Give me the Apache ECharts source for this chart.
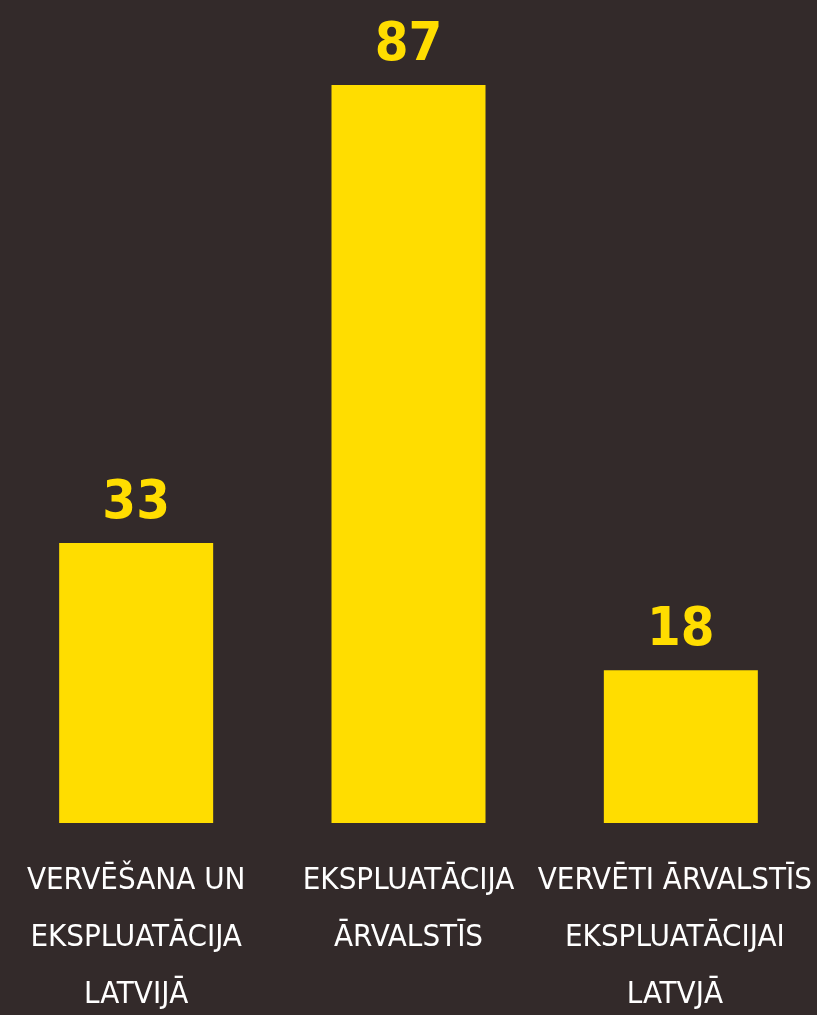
<!DOCTYPE html>
<html>
	<head>
		<meta charset="utf-8">
		<title></title>
		<script src="https://cdn.jsdelivr.net/npm/echarts@6/dist/echarts.min.js"></script>
		<style>
			html, body {
				margin: 0;
				padding: 0;
				background-color: #332a2a;
			}
			#main {
				width: 817px;
				height: 1015px;
			}
		</style>
	</head>
	<body>
		<div id="main"></div>
	</body>
	<script>
		var categories = [
			"VERVĒŠANA UN\nEKSPLUATĀCIJA\nLATVIJĀ",
			"EKSPLUATĀCIJA\nĀRVALSTĪS",
			"VERVĒTI ĀRVALSTĪS\nEKSPLUATĀCIJAI\nLATVJĀ"
		];
		var values = [33, 87, 18];

		var font = '"Liberation Sans Narrow", "DejaVu Sans Condensed", sans-serif';

		var option = {
			backgroundColor: '#332a2a',
			animation: false,
			grid: {
				left: 0,
				right: 0,
				top: 85,
				bottom: 192,
				outerBoundsMode: 'none'
			},
			xAxis: {
				type: 'category',
				data: categories,
				axisLine: { show: false },
				axisTick: { show: false },
				axisLabel: {
					color: '#ffffff',
					fontFamily: font,
					fontSize: 31,
					lineHeight: 57,
					margin: 29,
					interval: 0,
					// last label sits a little left of its bar, as in the picture
					formatter: function (value, index) {
						return index === 2 ? '{r|' + value.split('\n').join('}\n{r|') + '}' : value;
					},
					rich: {
						r: {
							color: '#ffffff',
							fontFamily: font,
							fontSize: 31,
							lineHeight: 57,
							padding: [0, 12, 0, 0]
						}
					}
				}
			},
			yAxis: {
				type: 'value',
				min: 0,
				max: 87,
				show: false
			},
			series: [{
				type: 'bar',
				data: values,
				barWidth: 154,
				itemStyle: { color: '#ffdd00' },
				label: {
					show: true,
					position: 'top',
					distance: 12,
					color: '#ffdd00',
					fontFamily: font,
					fontWeight: 'bold',
					fontSize: 54
				}
			}]
		};

		var chart = echarts.init(document.getElementById('main'));
		chart.setOption(option);
	</script>
</html>
